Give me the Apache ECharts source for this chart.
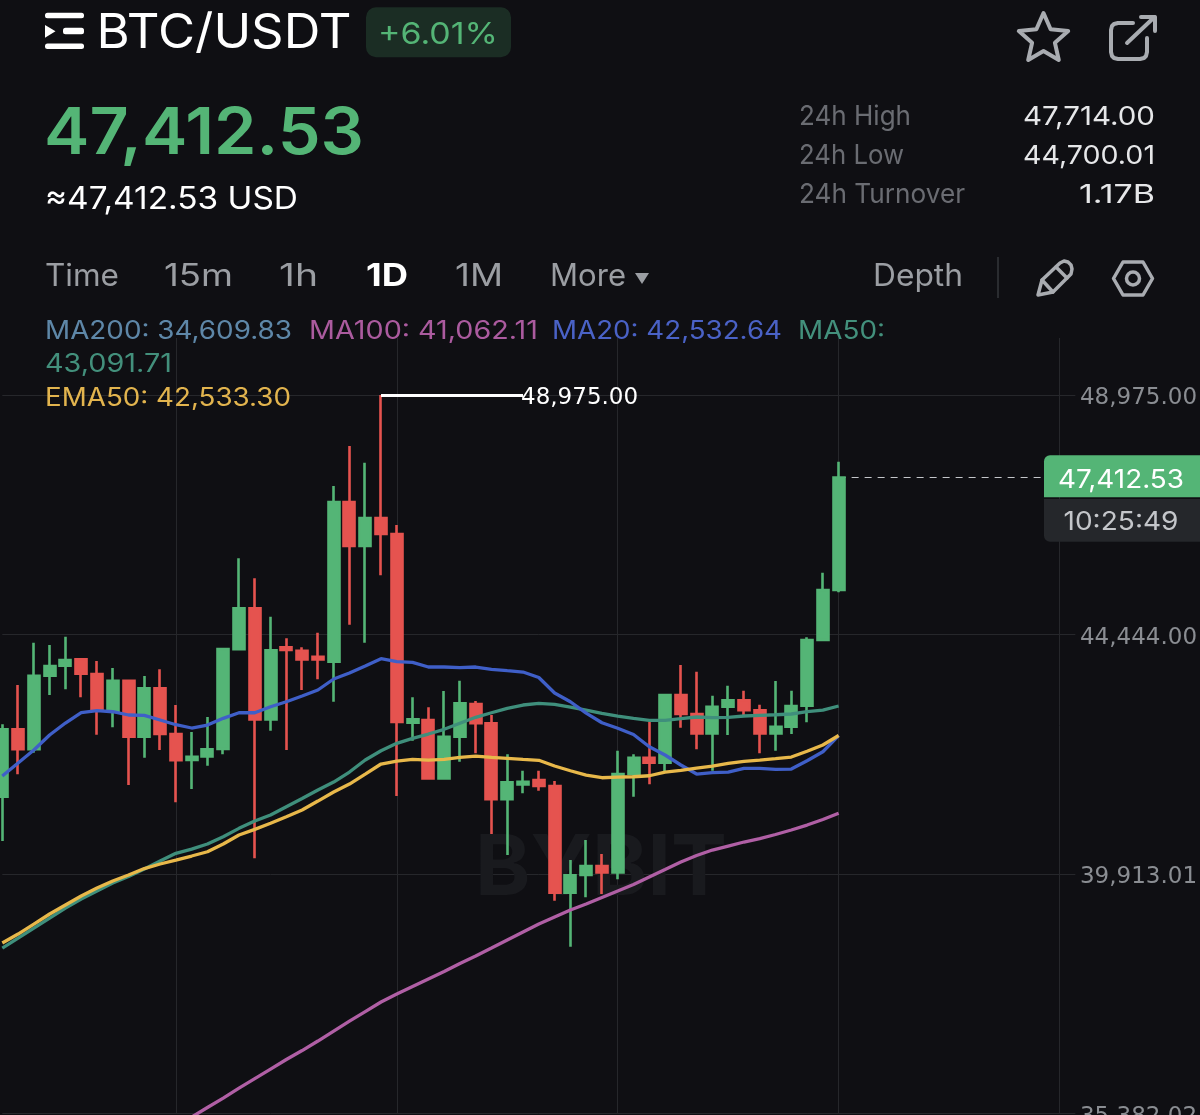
<!DOCTYPE html>
<html>
<head>
<meta charset="utf-8">
<style>html,body{margin:0;padding:0;background:#0f0f13}#c{width:1200px;height:1115px}</style>
<script src="https://cdn.jsdelivr.net/npm/echarts@6/dist/echarts.min.js"></script>
</head>
<body>
<div id="c"></div>
<script>
const categories = ['12-18','12-19','12-20','12-21','12-22','12-23','12-24','12-25','12-26','12-27','12-28','12-29','12-30','12-31','01-01','01-02','01-03','01-04','01-05','01-06','01-07','01-08','01-09','01-10','01-11','01-12','01-13','01-14','01-15','01-16','01-17','01-18','01-19','01-20','01-21','01-22','01-23','01-24','01-25','01-26','01-27','01-28','01-29','01-30','01-31','02-01','02-02','02-03','02-04','02-05','02-06','02-07','02-08','02-09','02-10','02-11','02-12','02-13','02-14','02-15','02-16','02-17','02-18','02-19','02-20','02-21','02-22','02-23','02-24'];
// open, close, low, high
const candles = [
[41375,42650,40537,42745],[42650,42272,41799,43488],[42272,43664,42207,44289],[43664,43848,43299,44245],[43853,43961,43407,44402],[43974,43702,43255,43993],
[43696,43002,42548,43942],[43002,43570,42688,43810],[43570,42510,41596,43583],[42510,43426,42113,43658],[43426,42561,42258,43785],[42561,42064,41269,43110],
[42069,42132,41521,42599],[42139,42272,41961,42883],[42277,44169,42177,44188],[44164,44939,44141,45885],[44939,42839,40209,45507],[42839,44145,42624,44780],
[44201,44150,42258,44372],[44137,43974,43394,44201],[44024,43974,43596,44478],[43929,46951,43172,47253],[46951,46118,44629,48010],[46118,46648,44289,47694],
[46648,46345,45564,48975],[46345,42788,41388,46515],[42775,42839,42434,43255],[42826,41723,41710,43066],[41723,42510,41704,43375],[42510,43142,42037,43570],
[43129,42764,42196,43185],[42764,41326,40669,42921],[41326,41647,40272,42177],[41609,41659,41439,41867],[41691,41577,41488,41867],[41577,39559,39407,41672],
[39559,39888,38537,40177],[39893,40064,39471,40556],[40064,39944,39534,40291],[39944,41804,39812,42245],[41804,42113,41375,42177],[42113,42018,41609,42794],
[42018,43299,41848,43318],[43299,42940,42680,43867],[42940,42574,42272,43740],[42574,43078,41867,43286],[43078,43199,42542,43475],[43199,43010,42921,43380],
[43010,42574,42196,43115],[42574,42699,42245,43564],[42699,43091,42561,43380],[43097,44340,42783,44391],[44340,45286,44326,45613],[45286,47412.53,45242,47714]
];
const ma100 = [null,null,null,null,null,null,null,null,null,null,null,null,35315,35495,35674,35863,36043,36223,36403,36573,36753,36942,37131,37311,37491,37642,37784,37926,38068,38219,38361,38512,38664,38815,38966,39099,39231,39345,39468,39591,39714,39856,39997,40139,40262,40366,40442,40518,40584,40660,40745,40839,40943,41062.11];
const ma20 = [41766,42012,42258,42542,42769,42964,43002,42983,42921,42915,42826,42737,42675,42731,42858,42964,42964,43078,43172,43280,43394,43602,43715,43848,43986,43929,43918,43829,43829,43816,43829,43785,43759,43734,43630,43337,43172,42958,42775,42671,42552,42321,42164,41975,41804,41829,41842,41912,41912,41893,41899,42056,42226,42532.64];
const ma50 = [38512,38701,38891,39080,39269,39439,39591,39742,39865,40007,40158,40304,40385,40480,40618,40777,40915,41029,41186,41341,41502,41653,41842,42069,42245,42385,42480,42561,42650,42764,42877,42964,43047,43110,43142,43123,43072,43015,42953,42902,42858,42820,42820,42851,42883,42870,42877,42902,42915,42926,42940,42983,43015,43091.71];
const ema50 = [38607,38777,38966,39156,39326,39496,39647,39780,39893,40016,40102,40177,40253,40334,40480,40650,40758,40872,40996,41123,41293,41464,41615,41804,41994,42050,42082,42069,42082,42120,42145,42120,42101,42082,42064,41956,41867,41785,41734,41744,41753,41772,41842,41874,41918,41956,42007,42045,42069,42094,42126,42234,42353,42533.30];
const yMin = 35382.02, yMax = 50053.44, yInterval = 4530.9933;
const tickLabels = ['35,382.02','39,913.01','44,444.00','48,975.00'];
const highValue = 48975, highLabel = '48,975.00', lastPrice = 47412.53;

const FONT = 'Inter, "Noto Sans", sans-serif';
const NUMFONT = '"DejaVu Sans", sans-serif';
const UP = '#54b576', DOWN = '#e5534f', BG = '#0f0f13', GRID = '#26272b', ICON = '#a9acb1';

const measure = document.createElement('canvas').getContext('2d');
function txt(text, x, y, size, fill, w, opt) {
  opt = opt || {};
  const font = (opt.weight||'400')+' '+size+'px '+FONT;
  measure.font = font;
  const sx = w ? w / measure.measureText(text).width : 1;
  return {type:'text', z:opt.z||20, x:x, y:y, scaleX:sx, style:{text:text, x:0, y:0, fill:fill, textAlign:opt.align||'left', textVerticalAlign:'middle', font:font}};
}
function poly(points, o){ return {type:'polygon', z:20, shape:{points:points}, style:o}; }
function pline(points, o){ return {type:'polyline', z:20, shape:{points:points}, style:o}; }
function rr(x,y,w,h,r,fill){ return {type:'rect', z:15, shape:{x:x,y:y,width:w,height:h,r:r}, style:{fill:fill}}; }
const ln = {fill:'none', stroke:ICON, lineWidth:4, lineJoin:'round', lineCap:'round'};
const ln35 = Object.assign({}, ln, {lineWidth:3.5});

const graphicElements = [
  rr(45,12.7,39,5.5,2.5,'#ffffff'), rr(45,43.4,39,5.5,2.5,'#ffffff'), rr(63,27.7,21,6.6,2.5,'#ffffff'),
  poly([[45,25],[55.5,31.3],[45,37.7]],{fill:'#ffffff'}),
  txt('BTC/USDT',96.5,34,48,'#ffffff',255),
  rr(366,7.3,145,50,10,'#1b2d24'),
  txt('+6.01%',378,35,30,UP,120),
  poly([[1043.5,13],[1050.6,29.3],[1068.2,31],[1054.9,42.7],[1058.8,60],[1043.5,51],[1028.2,60],[1032.1,42.7],[1018.8,31],[1036.4,29.3]],ln),
  pline([[1133,23],[1118,23],[1114,24],[1112,26],[1111,30],[1111,52],[1112,56],[1114,58],[1118,59],[1140,59],[1144,58],[1146,56],[1147,52],[1147,38]],ln),
  pline([[1127,43],[1154.5,17]],ln),
  pline([[1141,17],[1155,17],[1155,31]],ln),
  txt('47,412.53',44,135,64,UP,320,{weight:'600'}),
  txt('≈47,412.53 USD',45,200,31,'#ffffff',253),
  txt('24h High',799,117,27,'#6a6c72',112), txt('24h Low',799,156,27,'#6a6c72',105), txt('24h Turnover',799,195,27,'#6a6c72',166),
  txt('47,714.00',1155,117,26,'#e6e7e9',132,{align:'right'}), txt('44,700.01',1155,156,26,'#e6e7e9',132,{align:'right'}), txt('1.17B',1155,195,26,'#e6e7e9',76,{align:'right'}),
  txt('Time',45,277,31,'#9b9ea3',74), txt('15m',164,277,31,'#9b9ea3',69), txt('1h',279,277,31,'#9b9ea3',39),
  txt('1D',366,277,31,'#ffffff',42,{weight:'700'}), txt('1M',455,277,31,'#9b9ea3',48), txt('More',550,277,31,'#9b9ea3',76),
  poly([[635,273],[649,273],[642,284]],{fill:'#9b9ea3'}),
  txt('Depth',873,277,31,'#9b9ea3',90),
  {type:'line', z:20, shape:{x1:998,y1:257,x2:998,y2:298}, style:{stroke:'#35373b',lineWidth:1.5}},
  poly([[1038,295],[1042,280],[1060,263],[1064,261],[1068,262],[1071,265],[1072,269],[1071,274],[1053,292]],ln35),
  pline([[1042,280],[1053,292]],ln35),
  pline([[1056,267],[1067,278]],ln35),
  poly([[1113.5,278.5],[1123,262],[1143,262],[1152.5,278.5],[1143,295],[1123,295]],ln35),
  {type:'circle', z:20, shape:{cx:1133,cy:278.5,r:6.5}, style:ln35},
  txt('MA200: 34,609.83',45,331,25,'#5e87a8',247),
  txt('MA100: 41,062.11',309,331,25,'#ab5b9f',229),
  txt('MA20: 42,532.64',552,331,25,'#4a62c6',230),
  txt('MA50:',798,331,25,'#43907c',87),
  txt('43,091.71',45,364,25,'#43907c',127),
  txt('EMA50: 42,533.30',45,398,25,'#e2b44e',246),
  txt('BYBIT',475,870,84,'#191a1e',252,{weight:'700',z:1}),
  rr(1044,455.3,156,42,[6,0,0,0],UP),
  rr(1044,499,156,42.7,[0,0,0,6],'#25272b'),
  txt('47,412.53',1121,480,26,'#ffffff',126,{align:'center'}),
  txt('10:25:49',1121,522,26,'#c4c6ca',115,{align:'center'})
];

const chart = echarts.init(document.getElementById('c'), null, {width:1200, height:1115});
function maSeries(name, data, color){
  return {name:name, type:'line', data:data, showSymbol:false, symbol:'none', z:4, connectNulls:false,
    lineStyle:{color:color, width:3.3}, itemStyle:{color:color}, animation:false, silent:true, clip:true};
}
chart.setOption({
  animation:false,
  backgroundColor:BG,
  graphic:{elements:graphicElements},
  grid:{left:2.3, width:1073.04, top:338, bottom:1.5, containLabel:false, outerBoundsMode:'none'},
  xAxis:{type:'category', data:categories, boundaryGap:false,
    axisLine:{show:false}, axisTick:{show:false}, axisLabel:{show:false},
    splitLine:{show:true, interval:function(i){return i%14===11;}, lineStyle:{color:GRID,width:1}}},
  yAxis:{type:'value', position:'right', scale:true, min:yMin, max:yMax, interval:yInterval,
    axisLine:{show:false}, axisTick:{show:false},
    axisLabel:{show:true, align:'right', margin:121.7, showMaxLabel:false,
      rich:{t:{color:'#8a8d92', fontFamily:NUMFONT, fontSize:23, padding:[7,0,0,0]}},
      formatter:function(v,i){return tickLabels[i] ? '{t|'+tickLabels[i]+'}' : '';}},
    splitLine:{show:true, showMaxLine:false, lineStyle:{color:GRID,width:1}}},
  series:[
    {name:'Last', type:'line', data:[[categories[53], lastPrice]], showSymbol:false, z:1, silent:true,
      markLine:{silent:true, z:1, symbol:['none','none'], animation:false,
        lineStyle:{color:'#c4c6ca', type:[7,6], width:1}, label:{show:false},
        data:[[{coord:[categories[53],lastPrice]},{coord:[categories[66],lastPrice]}]]}},
    {name:'K', type:'candlestick', data:candles, clip:false, barWidth:11.5, z:2, silent:true, animation:false,
      itemStyle:{color:UP, color0:DOWN, borderColor:UP, borderColor0:DOWN, borderWidth:2.6},
      markLine:{silent:true, symbol:['none','none'], animation:false,
        lineStyle:{color:'#ffffff', type:'solid', width:3},
        label:{show:true, position:'end', formatter:highLabel, color:'#ffffff', fontFamily:NUMFONT, fontSize:23, distance:0, offset:[-2,3]},
        data:[[{coord:[categories[24],highValue]},{coord:[categories[33],highValue]}]]}},
    maSeries('MA100', ma100, '#b05fa5'),
    maSeries('MA50', ma50, '#3f8f7c'),
    maSeries('MA20', ma20, '#3f5fc8'),
    maSeries('EMA50', ema50, '#e8b84a')
  ]
});
</script>
</body>
</html>
